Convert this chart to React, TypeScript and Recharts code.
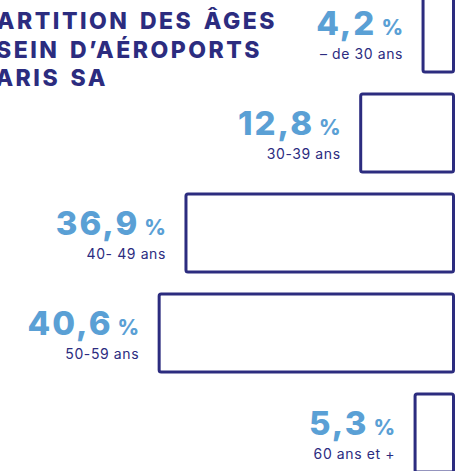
import React from "react";
import { BarChart, Bar, XAxis, YAxis, LabelList } from "recharts";

const ageGroups = ["– de 30 ans", "30-39 ans", "40- 49 ans", "50-59 ans", "60 ans et +"];
const shares = [4.2, 12.8, 36.9, 40.6, 5.3];
const titleLines = ["RÉPARTITION DES ÂGES", "AU SEIN D’AÉROPORTS", "DE PARIS SA"];

const NAVY = "#2c2c7f";
const BLUE = "#5aa0d5";

const data = ageGroups.map((name, i) => ({ name, value: shares[i] }));

// label drawn to the left of each bar: big number + small %, age range below
const ShareLabel = (props: any) => {
  const { x, y, width, height, index } = props;
  const left = Math.min(x, x + width);
  const right = left - 20;
  const cy = y + height / 2;
  const txt = shares[index].toFixed(1).replace(".", ",");
  return (
    <g>
      <text x={right} y={cy + 1.5} textAnchor="end" fill={BLUE} fontFamily="Inter, sans-serif" fontWeight={800}>
        <tspan fontSize={33} letterSpacing={2}>{txt}</tspan>
        <tspan fontSize={21} dx={5}>%</tspan>
      </text>
      <text x={right} y={cy + 25.5} textAnchor="end" fill={NAVY} fontFamily="Inter, sans-serif" fontSize={14} letterSpacing={0.6} fontWeight={400}>
        {ageGroups[index]}
      </text>
    </g>
  );
};

export default function App() {
  return (
    <div style={{ position: "absolute", left: 0, top: 0, width: 460, height: 471, overflow: "hidden", background: "#fff" }}>
      <div style={{ position: "absolute", left: 0, top: -17.5 }}>
        <BarChart
          width={460}
          height={500}
          data={data}
          layout="vertical"
          margin={{ top: 0, right: 6.5, bottom: 0, left: 18.5 }}
          barSize={78}
        >
          <XAxis type="number" domain={[0, 60]} reversed hide />
          <YAxis type="category" dataKey="name" hide />
          <Bar dataKey="value" fill="#ffffff" stroke={NAVY} strokeWidth={3} radius={2} isAnimationActive={false}>
            <LabelList dataKey="value" content={<ShareLabel />} />
          </Bar>
        </BarChart>
      </div>
      <svg width={460} height={100} style={{ position: "absolute", left: 0, top: 0 }}>
        {titleLines.map((line, i) => (
          <text
            key={line}
            x={[277, 262, 108][i]}
            y={29 + i * 28.5}
            textAnchor="end"
            fill={NAVY}
            fontFamily="Inter, sans-serif"
            fontWeight={800}
            fontSize={23}
            letterSpacing={2.5}
            wordSpacing={3}
          >
            {line}
          </text>
        ))}
      </svg>
    </div>
  );
}
